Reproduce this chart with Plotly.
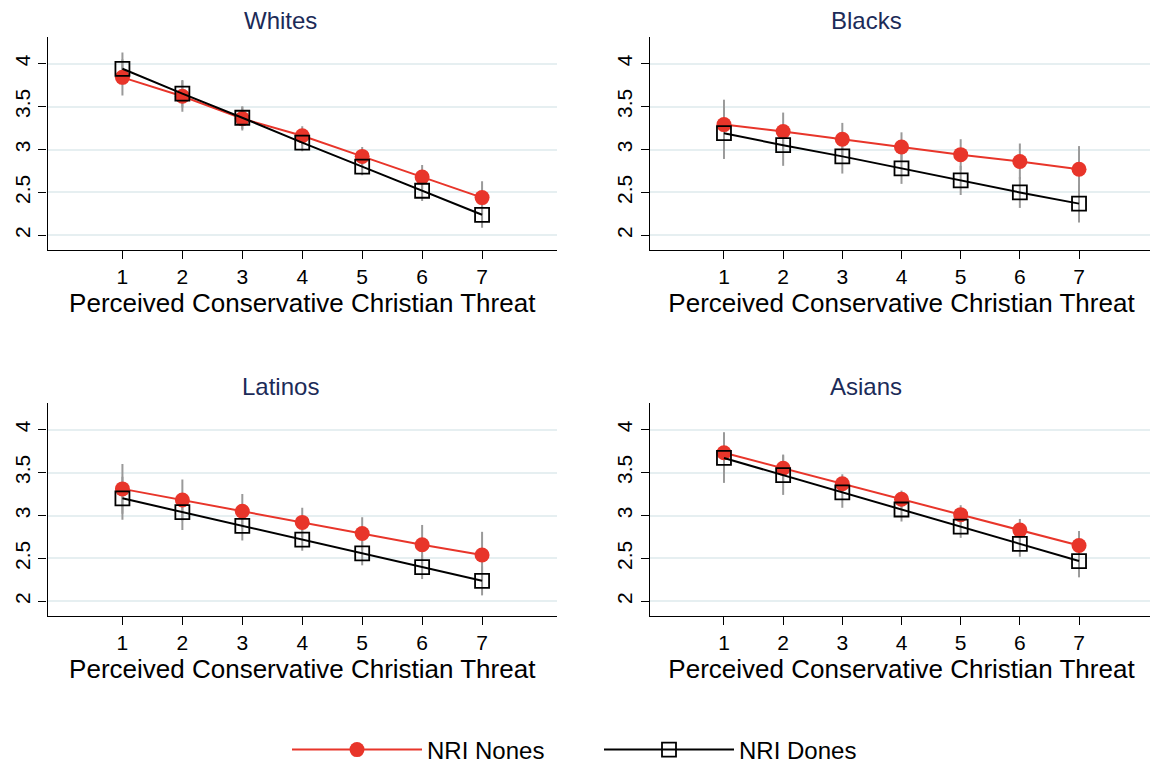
import plotly.graph_objects as go

threat = [1, 2, 3, 4, 5, 6, 7]
groups = ["Whites", "Blacks", "Latinos", "Asians"]

nones_whites = [3.84, 3.62, 3.36, 3.16, 2.92, 2.68, 2.44]
dones_whites = [3.94, 3.65, 3.37, 3.08, 2.80, 2.52, 2.24]
nones_whites_ci = [0.21, 0.18, 0.14, 0.11, 0.11, 0.14, 0.19]
dones_whites_ci = [0.19, 0.16, 0.13, 0.10, 0.10, 0.12, 0.15]

nones_blacks = [3.29, 3.21, 3.12, 3.03, 2.94, 2.86, 2.77]
dones_blacks = [3.19, 3.05, 2.92, 2.78, 2.64, 2.50, 2.37]
nones_blacks_ci = [0.29, 0.22, 0.19, 0.17, 0.18, 0.21, 0.27]
dones_blacks_ci = [0.30, 0.24, 0.20, 0.18, 0.17, 0.18, 0.22]

nones_latinos = [3.31, 3.18, 3.05, 2.92, 2.79, 2.66, 2.54]
dones_latinos = [3.20, 3.04, 2.88, 2.72, 2.56, 2.40, 2.24]
nones_latinos_ci = [0.29, 0.24, 0.20, 0.17, 0.19, 0.23, 0.27]
dones_latinos_ci = [0.25, 0.21, 0.17, 0.13, 0.14, 0.14, 0.17]

nones_asians = [3.73, 3.55, 3.37, 3.19, 3.01, 2.83, 2.65]
dones_asians = [3.67, 3.47, 3.27, 3.07, 2.87, 2.67, 2.47]
nones_asians_ci = [0.24, 0.16, 0.11, 0.10, 0.11, 0.13, 0.17]
dones_asians_ci = [0.29, 0.23, 0.18, 0.14, 0.13, 0.15, 0.19]

y_ticks = [2, 2.5, 3, 3.5, 4]
y_tick_labels = ["2", "2.5", "3", "3.5", "4"]
x_title = "Perceived Conservative Christian Threat"
series_names = ["NRI Nones", "NRI Dones"]

panels = [
    (nones_whites, dones_whites, nones_whites_ci, dones_whites_ci),
    (nones_blacks, dones_blacks, nones_blacks_ci, dones_blacks_ci),
    (nones_latinos, dones_latinos, nones_latinos_ci, dones_latinos_ci),
    (nones_asians, dones_asians, nones_asians_ci, dones_asians_ci),
]

W, H = 1158, 768
OFF = 8  # page body margin compensation
RED = "#e8352a"
FONT = "Liberation Sans, Arial, sans-serif"

# plot-area pixel boxes in page coords (left, right, top, bottom)
boxes = [(47.5, 557, 37, 250), (650, 1153, 37, 250),
         (47.5, 557, 403, 616), (650, 1153, 403, 616)]
title_x = [280, 866, 280, 866]
title_y = [20, 20, 386, 386]


def px(v):
    return (v - OFF) / W


def py(v):
    return 1 - (v - OFF) / H


fig = go.Figure()
layout = dict(
    width=W, height=H, autosize=False,
    margin=dict(l=0, r=0, t=0, b=0),
    paper_bgcolor="white", plot_bgcolor="white",
    font=dict(family=FONT, color="black", size=21),
    showlegend=True,
)
annotations = []

for i, (g, (nn, dd, nci, dci)) in enumerate(zip(groups, panels)):
    k = "" if i == 0 else str(i + 1)
    xa, ya = "x" + k, "y" + k
    l, r, t, b = boxes[i]
    for vals, ci in ((nn, nci), (dd, dci)):
        fig.add_trace(go.Scatter(
            x=threat, y=vals, mode="markers", xaxis=xa, yaxis=ya,
            marker=dict(size=1, color="rgba(0,0,0,0)"),
            error_y=dict(type="data", array=ci, visible=True, color="#9a9a9a",
                         thickness=2, width=0),
            showlegend=False, hoverinfo="skip"))
    fig.add_trace(go.Scatter(
        x=threat, y=nn, mode="lines+markers", name=series_names[0],
        xaxis=xa, yaxis=ya, line=dict(color=RED, width=2),
        marker=dict(symbol="circle", size=15, color=RED),
        showlegend=(i == 0), legendrank=1))
    fig.add_trace(go.Scatter(
        x=threat, y=dd, mode="lines+markers", name=series_names[1],
        xaxis=xa, yaxis=ya, line=dict(color="black", width=2),
        marker=dict(symbol="square-open", size=14, color="black",
                    line=dict(width=1.8, color="black")),
        showlegend=(i == 0), legendrank=2))

    layout["xaxis" + k] = dict(
        domain=[px(l), px(r)], anchor=ya, range=[-0.25, 8.25],
        tickmode="array", tickvals=threat, ticktext=[str(v) for v in threat],
        ticks="outside", ticklen=8, tickwidth=1.3, tickcolor="black",
        showline=True, linecolor="black", linewidth=1.3, showgrid=False,
        zeroline=False, tickfont=dict(size=21, family=FONT),
        title=dict(text=x_title, font=dict(size=26, family=FONT), standoff=6),
    )
    layout["yaxis" + k] = dict(
        domain=[py(b), py(t)], anchor=xa, range=[1.83, 4.31],
        tickmode="array", tickvals=y_ticks, ticktext=y_tick_labels,
        ticks="outside", ticklen=8, tickwidth=1.3, tickcolor="black",
        showline=True, linecolor="black", linewidth=1.3,
        showgrid=True, gridcolor="#e6eff1", gridwidth=1.5,
        zeroline=False, tickangle=-90, tickfont=dict(size=21, family=FONT),
    )
    annotations.append(dict(
        text=g, x=px(title_x[i]), y=py(title_y[i]), xref="paper", yref="paper",
        xanchor="center", yanchor="middle", showarrow=False,
        font=dict(size=24, color="#1c2b58", family=FONT)))

layout["annotations"] = annotations
layout["legend"] = dict(
    orientation="h", x=px(287), xanchor="left", y=py(750), yanchor="middle",
    font=dict(size=24, family=FONT), itemwidth=130, tracegroupgap=0,
    entrywidth=167, entrywidthmode="pixels",
    bgcolor="rgba(0,0,0,0)")
fig.update_layout(**layout)
fig.write_html("out.html")
